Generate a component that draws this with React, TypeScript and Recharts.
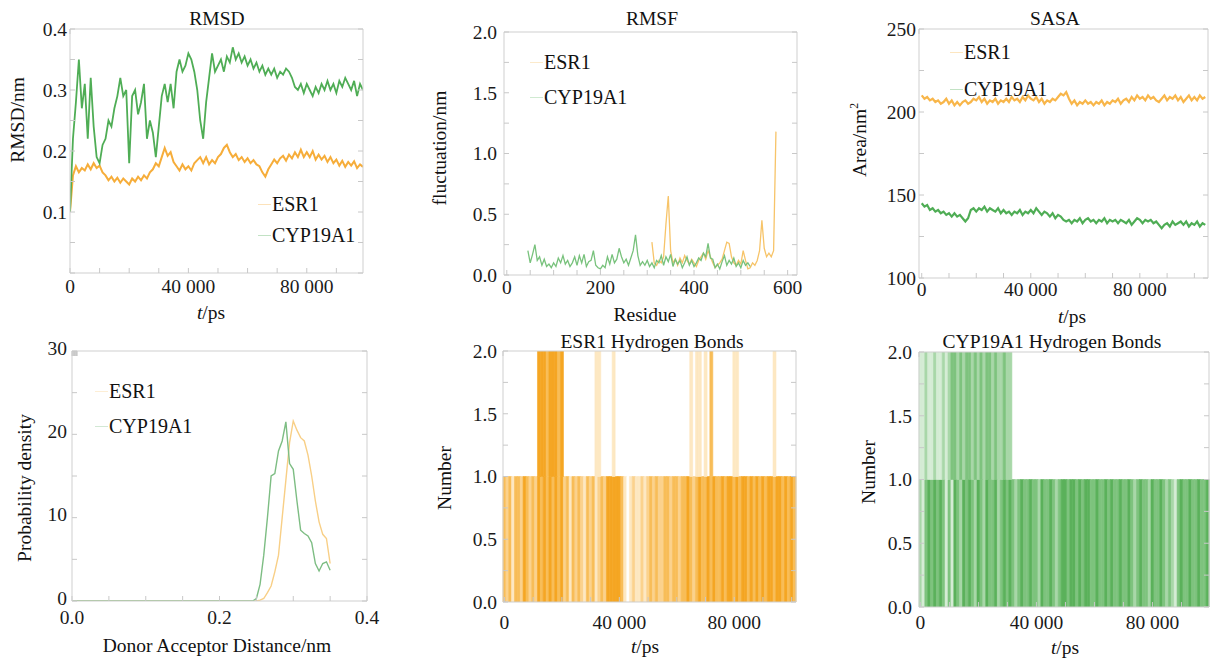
import React from 'react';
import { Bar, BarChart, Cell, Legend, Line, LineChart, XAxis, YAxis } from 'recharts';

// ---------- data ----------
const seriesNames = ['ESR1', 'CYP19A1'];

// RMSD (nm), one frame every 1000 ps, 0 .. 99 000 ps
const rmsdEsr1 = [
  0.1, 0.16, 0.175, 0.165, 0.172, 0.168, 0.178, 0.17, 0.18, 0.172,
  0.176, 0.165, 0.16, 0.152, 0.158, 0.15, 0.156, 0.148, 0.155, 0.15,
  0.145, 0.155, 0.15, 0.158, 0.152, 0.16, 0.155, 0.165, 0.17, 0.18,
  0.175, 0.19, 0.205, 0.192, 0.198, 0.182, 0.175, 0.168, 0.178, 0.17,
  0.175, 0.168, 0.18, 0.185, 0.19, 0.18, 0.19, 0.178, 0.185, 0.18,
  0.19, 0.195, 0.205, 0.21, 0.198, 0.19, 0.195, 0.185, 0.19, 0.182,
  0.188, 0.18, 0.185, 0.178, 0.175, 0.165, 0.158, 0.17, 0.178, 0.186,
  0.18, 0.188, 0.192, 0.184, 0.194, 0.188, 0.198, 0.19, 0.202, 0.19,
  0.198, 0.19, 0.2, 0.186, 0.194, 0.186, 0.192, 0.182, 0.19, 0.18,
  0.186, 0.176, 0.184, 0.174, 0.182, 0.176, 0.183, 0.172, 0.178, 0.174,
];
const rmsdCyp = [
  0.1, 0.22, 0.28, 0.35, 0.27, 0.31, 0.22, 0.32, 0.24, 0.19,
  0.18, 0.21, 0.22, 0.25, 0.24, 0.27, 0.29, 0.32, 0.29, 0.3,
  0.18, 0.29, 0.3, 0.26, 0.28, 0.31, 0.22, 0.25, 0.23, 0.19,
  0.24, 0.29, 0.31, 0.28, 0.31, 0.27, 0.33, 0.35, 0.33, 0.34,
  0.36, 0.35, 0.33, 0.3, 0.25, 0.22, 0.28, 0.32, 0.36, 0.33,
  0.34, 0.35, 0.33, 0.355, 0.345, 0.37, 0.35, 0.36, 0.345, 0.355,
  0.34, 0.35, 0.335, 0.345, 0.33, 0.34, 0.325, 0.335, 0.325, 0.335,
  0.32, 0.33, 0.325, 0.335, 0.33, 0.32, 0.305, 0.3, 0.31, 0.295,
  0.31, 0.3, 0.29, 0.305, 0.295, 0.31, 0.3, 0.315, 0.3, 0.31,
  0.295, 0.315, 0.305, 0.32, 0.31, 0.3, 0.315, 0.29, 0.31, 0.3,
];

// RMSF (nm), every 5th residue
const esr1FirstResidue = 310;
const cypFirstResidue = 45;
const residueStep = 5;
const rmsfEsr1 = [
  0.27, 0.1, 0.08, 0.12, 0.1, 0.15, 0.42, 0.65, 0.2, 0.1,
  0.13, 0.08, 0.14, 0.1, 0.16, 0.12, 0.09, 0.13, 0.1, 0.07,
  0.12, 0.15, 0.18, 0.13, 0.2, 0.15, 0.1, 0.06, 0.08, 0.1,
  0.13, 0.2, 0.27, 0.26, 0.15, 0.1, 0.08, 0.12, 0.09, 0.2,
  0.12, 0.05, 0.06, 0.1, 0.08, 0.12, 0.2, 0.45, 0.22, 0.15,
  0.18, 0.15, 0.2, 1.18,
];
const rmsfCyp = [
  0.2, 0.1, 0.17, 0.25, 0.12, 0.15, 0.08, 0.13, 0.07, 0.09,
  0.06, 0.1, 0.07, 0.14, 0.1, 0.16, 0.09, 0.12, 0.07, 0.1,
  0.15, 0.08, 0.16, 0.1, 0.17, 0.07, 0.11, 0.12, 0.2, 0.08,
  0.06, 0.05, 0.08, 0.06, 0.15, 0.09, 0.17, 0.1, 0.13, 0.22,
  0.15, 0.1, 0.13, 0.08, 0.14, 0.2, 0.33, 0.16, 0.08, 0.11,
  0.08, 0.12, 0.07, 0.1, 0.06, 0.12, 0.1, 0.16, 0.08, 0.15,
  0.11, 0.17, 0.07, 0.13, 0.09, 0.12, 0.06, 0.1, 0.15, 0.08,
  0.12, 0.07, 0.1, 0.14, 0.12, 0.18, 0.15, 0.26, 0.14, 0.13,
  0.06, 0.09, 0.05, 0.11, 0.16, 0.08, 0.12, 0.09, 0.14, 0.07,
  0.1, 0.06, 0.12, 0.08, 0.1, 0.07,
];

// SASA (nm^2), one frame every 1000 ps, 0 .. 104 000 ps
const sasaEsr1 = [
  210, 208, 209, 207, 208, 206, 207, 205, 206, 208,
  205, 207, 204, 206, 204, 206, 207, 205, 206, 208,
  207, 209, 206, 208, 205, 207, 206, 208, 205, 207,
  206, 208, 206, 209, 207, 208, 206, 209, 207, 210,
  208, 207, 209, 206, 208, 205, 207, 206, 208, 207,
  209, 211, 210, 212, 208, 205, 207, 204, 206, 205,
  207, 205, 206, 204, 206, 205, 207, 204, 206, 205,
  207, 206, 208, 205, 207, 208, 206, 209, 207, 210,
  208, 209, 207, 210, 208, 209, 207, 206, 208, 210,
  207, 209, 208, 210, 207, 209, 206, 208, 210, 207,
  209, 207, 210, 208, 209,
];
const sasaCyp = [
  145, 143, 144, 141, 142, 140, 141, 139, 140, 138,
  139, 137, 139, 137, 138, 136, 134, 136, 141, 142,
  140, 142, 141, 143, 140, 142, 141, 140, 142, 139,
  141, 139, 140, 138, 140, 139, 141, 138, 140, 139,
  141, 139, 142, 140, 138, 140, 139, 137, 139, 136,
  138, 137, 135, 134, 135, 133, 135, 134, 136, 133,
  135, 136, 134, 135, 133, 135, 134, 136, 133, 135,
  134, 135, 133, 135, 134, 133, 135, 132, 134, 136,
  135, 133, 135, 134, 135, 133, 134, 132, 130, 132,
  133, 131, 134, 132, 133, 134, 132, 134, 131, 133,
  132, 134, 131, 133, 132,
];

// hydrogen bond donor-acceptor distance distribution
const distance = [
  0, 0.24, 0.245, 0.25, 0.255, 0.26, 0.265, 0.27, 0.275, 0.28, 0.285, 0.29,
  0.295, 0.3, 0.305, 0.31, 0.315, 0.32, 0.325, 0.33, 0.335, 0.34, 0.345, 0.35,
];
const densityEsr1 = [
  0, 0, 0, 0, 0.1, 0.3, 1, 1.8, 3.5, 5.5, 10, 14.5,
  19, 21.6, 20.5, 19.6, 19.2, 17.5, 15, 12, 9.5, 8, 7.5, 4.5,
];
const densityCyp = [
  0, 0, 0, 0.3, 2, 5.5, 10, 15, 15.3, 18, 19.2, 21.5,
  16.5, 15.8, 12, 8.5, 8.1, 7.8, 7, 4.5, 3.6, 4.5, 4.7, 3.7,
];

// hydrogen bonds per 1000 ps window: shade level 0 (none) .. 4 (always present)
const esr1HbFirst = [
  3, 2, 3, 1, 3, 3, 2, 4, 3, 2,
  3, 2, 4, 3, 4, 3, 4, 3, 4, 3,
  4, 2, 3, 1, 3, 2, 3, 2, 1, 3,
  2, 3, 1, 2, 3, 2, 4, 4, 4, 4,
  4, 3, 1, 0, 1, 2, 1, 1, 2, 1,
  2, 3, 2, 3, 2, 2, 3, 3, 2, 3,
  3, 2, 3, 3, 4, 3, 2, 3, 4, 3,
  3, 4, 3, 4, 3, 3, 4, 3, 4, 4,
  3, 4, 3, 4, 4, 3, 4, 3, 4, 3,
  4, 3, 4, 4, 3, 4, 4, 3, 4, 3,
  4, 3,
];
const esr1HbSecond = [
  0, 0, 0, 0, 0, 0, 0, 0, 0, 0,
  0, 0, 4, 4, 4, 3, 4, 4, 4, 3,
  4, 0, 0, 0, 0, 0, 0, 0, 0, 0,
  0, 0, 1, 1, 0, 0, 0, 0, 1, 0,
  0, 0, 0, 0, 0, 0, 0, 0, 0, 0,
  0, 0, 0, 0, 0, 0, 0, 0, 0, 0,
  0, 0, 0, 0, 0, 1, 0, 1, 1, 0,
  1, 0, 3, 0, 0, 0, 0, 0, 0, 0,
  1, 1, 0, 0, 0, 0, 0, 0, 0, 0,
  0, 0, 0, 0, 1, 0, 0, 0, 0, 0,
  0, 0,
];
const cypHbFirst = [
  2, 1, 3, 4, 3, 4, 3, 4, 3, 1,
  3, 1, 4, 3, 2, 4, 3, 4, 3, 2,
  4, 3, 2, 4, 3, 3, 4, 2, 3, 4,
  3, 4, 3, 2, 3, 4, 3, 3, 4, 3,
  3, 2, 4, 3, 3, 4, 3, 2, 3, 4,
  4, 3, 4, 4, 3, 4, 3, 4, 4, 3,
  3, 4, 3, 3, 4, 3, 4, 3, 3, 4,
  3, 3, 4, 3, 2, 3, 4, 3, 3, 2,
  4, 3, 3, 4, 3, 2, 3, 2, 1, 3,
  4, 3, 3, 4, 3, 3, 4, 3, 3, 4,
];
const cypHbSecond = [
  1, 1, 2, 1, 1, 2, 1, 1, 2, 1,
  2, 3, 3, 2, 3, 2, 3, 3, 2, 3,
  2, 3, 2, 3, 3, 2, 3, 2, 2, 3,
  2, 2, 0, 0, 0, 0, 0, 0, 0, 0,
  0, 0, 0, 0, 0, 0, 0, 0, 0, 0,
  0, 0, 0, 0, 0, 0, 0, 0, 0, 0,
  0, 0, 0, 0, 0, 0, 0, 0, 0, 0,
  0, 0, 0, 0, 0, 0, 0, 0, 0, 0,
  0, 0, 0, 0, 0, 0, 0, 0, 0, 0,
  0, 0, 0, 0, 0, 0, 0, 0, 0, 0,
];

// tick positions
const timeTicks = [0, 10000, 20000, 30000, 40000, 50000, 60000, 70000, 80000, 90000];
const timeTicksLong = [...timeTicks, 100000];
const rmsdTicks = [0, 0.05, 0.1, 0.15, 0.2, 0.25, 0.3, 0.35, 0.4];
const rmsfYTicks = [0, 0.25, 0.5, 0.75, 1, 1.25, 1.5, 1.75, 2];
const residueTicks = [0, 50, 100, 150, 200, 250, 300, 350, 400, 450, 500, 550, 600];
const sasaTicks = [100, 125, 150, 175, 200, 225, 250];
const densityTicks = [0, 5, 10, 15, 20, 25, 30];
const distanceTicks = [0, 0.05, 0.1, 0.15, 0.2, 0.25, 0.3, 0.35, 0.4];
const hbondTicks = [0, 0.25, 0.5, 0.75, 1, 1.25, 1.5, 1.75, 2];

const FRAME_STEP = 1000;

// ---------- tables ----------
const rmsdData = rmsdEsr1.map((v, i) => ({ t: i * FRAME_STEP, esr1: v, cyp: rmsdCyp[i] }));
const sasaData = sasaEsr1.map((v, i) => ({ t: i * FRAME_STEP, esr1: v, cyp: sasaCyp[i] }));
const rmsfEsr1Data = rmsfEsr1.map((v, i) => ({ res: esr1FirstResidue + i * residueStep, v }));
const rmsfCypData = rmsfCyp.map((v, i) => ({ res: cypFirstResidue + i * residueStep, v }));
const distData = distance.map((d, i) => ({ d, esr1: densityEsr1[i], cyp: densityCyp[i] }));
const esr1HbData = esr1HbFirst.map((lvl, i) => ({ t: i * FRAME_STEP, first: 1, second: 1, lo: lvl, hi: esr1HbSecond[i] }));
const cypHbData = cypHbFirst.map((lvl, i) => ({ t: i * FRAME_STEP, first: 1, second: 1, lo: lvl, hi: cypHbSecond[i] }));

// ---------- styles ----------
const FONT = 'Liberation Serif, Times New Roman, serif';
const ORANGE = '#f6ad3a';
const GREEN = '#4fad55';
const orangeShades = ['#ffffff', '#fde8c2', '#fbd28d', '#f8bd58', '#f5a623'];
const greenShades = ['#ffffff', '#d5ecd5', '#a8d7a8', '#7ec37e', '#5bb15b'];
const tickLine = { stroke: '#c8c8c8' };
const axisLine = { stroke: '#cfcfcf' };

const YW = 70;
const XH = 40;
const MT = 16;
const MR = 20;

type Plot = { x: number; y: number; w: number; h: number };
const boxStyle = (p: Plot): React.CSSProperties => ({ position: 'absolute', left: p.x - YW, top: p.y - MT });
const chartSize = (p: Plot) => ({ width: YW + p.w + MR, height: MT + p.h + XH });
const chartMargin = { top: MT - 1, right: MR - 1, bottom: 0, left: 0 };

const plotRmsd: Plot = { x: 70, y: 29, w: 293, h: 244 };
const plotRmsf: Plot = { x: 504, y: 32, w: 293, h: 243 };
const plotSasa: Plot = { x: 919, y: 29, w: 289, h: 249 };
const plotDist: Plot = { x: 72, y: 351, w: 295, h: 250 };
const plotEsr1Hb: Plot = { x: 503, y: 351, w: 293, h: 251 };
const plotCypHb: Plot = { x: 919, y: 352, w: 290, h: 255 };

const spaced = (v: number) => String(v).replace(/\B(?=(\d{3})+(?!\d))/g, ' ');
const timeLabel = (v: number) => (v % 40000 === 0 ? spaced(v) : '');
const blank = () => '';
const everyTenth = (v: number) => {
  const k = Math.round(v * 100);
  return k > 0 && k % 10 === 0 ? (k / 100).toFixed(1) : '';
};
const everyHalf = (v: number) => {
  const k = Math.round(v * 100);
  return k % 50 === 0 ? (k / 100).toFixed(1) : '';
};

// tick label drawn as plain svg text so the serif face is kept
function AxisTick(props: any) {
  const { x, y, payload, textAnchor, verticalAnchor, tickFormatter, index, lift = 0 } = props;
  const label = tickFormatter ? tickFormatter(payload.value, index) : String(payload.value);
  if (!label) return null;
  const dy = verticalAnchor === 'start' ? '0.71em' : verticalAnchor === 'middle' ? '0.35em' : '0';
  return (
    <text x={x} y={y - lift} dy={dy} textAnchor={textAnchor} fill="#1a1a1a" fontSize={19.5} fontFamily={FONT}>
      {label}
    </text>
  );
}

function Caption({ x, y, rotate, size = 19.5, children }: { x: number; y: number; rotate?: boolean; size?: number; children: React.ReactNode }) {
  return (
    <div
      style={{
        position: 'absolute',
        left: x,
        top: y,
        transform: `translate(-50%, -50%)${rotate ? ' rotate(-90deg)' : ''}`,
        whiteSpace: 'nowrap',
        fontFamily: FONT,
        fontSize: size,
        lineHeight: 1,
        color: '#111',
      }}
    >
      {children}
    </div>
  );
}

const legendRows = (rowHeight: number) => (props: any) => (
  <div style={{ fontFamily: FONT, fontSize: 20, color: '#111' }}>
    {(props.payload || []).map((p: any) => (
      <div key={p.value} style={{ display: 'flex', alignItems: 'center', height: rowHeight }}>
        <span style={{ display: 'inline-block', width: 13, height: 1.5, background: p.color, opacity: 0.35, marginRight: 1 }} />
        <span>{p.value}</span>
      </div>
    ))}
  </div>
);

// legend box position is given relative to the plot's top-left corner
const legendAt = (left: number, top: number, rowHeight: number) => (
  <Legend
    layout="vertical"
    align="center"
    verticalAlign="middle"
    itemSorter={(item: any) => seriesNames.indexOf(item.value)}
    wrapperStyle={{ left: left + YW, top: top + MT, width: 'auto' }}
    content={legendRows(rowHeight)}
  />
);

const ItalicT = () => (
  <span>
    <i>t</i>/ps
  </span>
);

export default function App() {
  return (
    <div style={{ position: 'absolute', left: 0, top: 0, width: 1210, height: 660, overflow: 'hidden', background: '#fff', fontFamily: FONT }}>
      {/* RMSD */}
      <div style={boxStyle(plotRmsd)}>
        <LineChart {...chartSize(plotRmsd)} data={rmsdData} margin={chartMargin}>
          <XAxis dataKey="t" type="number" domain={[0, 99000]} ticks={timeTicks} allowDataOverflow height={XH} interval={0}
            tickFormatter={timeLabel} tick={<AxisTick />} tickLine={tickLine} axisLine={axisLine} tickSize={-5} tickMargin={11} />
          <XAxis xAxisId="top" orientation="top" type="number" domain={[0, 99000]} ticks={timeTicks} allowDataOverflow height={1} interval={0}
            tickFormatter={blank} tickLine={tickLine} axisLine={axisLine} tickSize={-5} />
          <YAxis domain={[0, 0.4]} ticks={rmsdTicks} allowDataOverflow width={YW} interval={0}
            tickFormatter={everyTenth} tick={<AxisTick />} tickLine={tickLine} axisLine={axisLine} tickSize={-5} tickMargin={8} />
          <YAxis yAxisId="right" orientation="right" domain={[0, 0.4]} ticks={rmsdTicks} allowDataOverflow width={1} interval={0}
            tickFormatter={blank} tickLine={tickLine} axisLine={axisLine} tickSize={-5} />
          <Line dataKey="esr1" name={seriesNames[0]} stroke={ORANGE} strokeWidth={2} dot={false} activeDot={false} isAnimationActive={false} />
          <Line dataKey="cyp" name={seriesNames[1]} stroke={GREEN} strokeWidth={1.8} dot={false} activeDot={false} isAnimationActive={false} />
          {legendAt(188, 160, 31)}
        </LineChart>
      </div>

      {/* RMSF */}
      <div style={boxStyle(plotRmsf)}>
        <LineChart {...chartSize(plotRmsf)} margin={chartMargin}>
          <XAxis dataKey="res" type="number" domain={[-6, 620]} ticks={residueTicks} allowDataOverflow height={XH} interval={0}
            tickFormatter={(v: number) => (v % 200 === 0 ? String(v) : '')} tick={<AxisTick />} tickLine={tickLine} axisLine={axisLine} tickSize={-5} tickMargin={10} />
          <XAxis xAxisId="top" orientation="top" type="number" domain={[-6, 620]} ticks={residueTicks} allowDataOverflow height={1} interval={0}
            tickFormatter={blank} tickLine={tickLine} axisLine={axisLine} tickSize={-5} />
          <YAxis domain={[0, 2]} ticks={rmsfYTicks} allowDataOverflow width={YW} interval={0}
            tickFormatter={everyHalf} tick={<AxisTick />} tickLine={tickLine} axisLine={axisLine} tickSize={-5} tickMargin={12} />
          <YAxis yAxisId="right" orientation="right" domain={[0, 2]} ticks={rmsfYTicks} allowDataOverflow width={1} interval={0}
            tickFormatter={blank} tickLine={tickLine} axisLine={axisLine} tickSize={-5} />
          <Line data={rmsfEsr1Data} dataKey="v" name={seriesNames[0]} stroke="#f7c469" strokeWidth={1.3} dot={false} activeDot={false} isAnimationActive={false} />
          <Line data={rmsfCypData} dataKey="v" name={seriesNames[1]} stroke="#78c27c" strokeWidth={1.3} dot={false} activeDot={false} isAnimationActive={false} />
          {legendAt(26, 13, 35)}
        </LineChart>
      </div>

      {/* SASA */}
      <div style={boxStyle(plotSasa)}>
        <LineChart {...chartSize(plotSasa)} data={sasaData} margin={chartMargin}>
          <XAxis dataKey="t" type="number" domain={[-1000, 105000]} ticks={timeTicksLong} allowDataOverflow height={XH} interval={0}
            tickFormatter={timeLabel} tick={<AxisTick />} tickLine={tickLine} axisLine={axisLine} tickSize={-5} tickMargin={9} />
          <XAxis xAxisId="top" orientation="top" type="number" domain={[-1000, 105000]} ticks={timeTicksLong} allowDataOverflow height={1} interval={0}
            tickFormatter={blank} tickLine={tickLine} axisLine={axisLine} tickSize={-5} />
          <YAxis domain={[100, 250]} ticks={sasaTicks} allowDataOverflow width={YW} interval={0}
            tickFormatter={(v: number) => (v % 50 === 0 ? String(v) : '')} tick={<AxisTick />} tickLine={tickLine} axisLine={axisLine} tickSize={-5} tickMargin={8} />
          <YAxis yAxisId="right" orientation="right" domain={[100, 250]} ticks={sasaTicks} allowDataOverflow width={1} interval={0}
            tickFormatter={blank} tickLine={tickLine} axisLine={axisLine} tickSize={-5} />
          <Line dataKey="esr1" name={seriesNames[0]} stroke="#f8b64a" strokeWidth={2.2} dot={false} activeDot={false} isAnimationActive={false} />
          <Line dataKey="cyp" name={seriesNames[1]} stroke={GREEN} strokeWidth={2.2} dot={false} activeDot={false} isAnimationActive={false} />
          {legendAt(31, 5, 37)}
        </LineChart>
      </div>

      {/* distance distribution */}
      <div style={boxStyle(plotDist)}>
        <LineChart {...chartSize(plotDist)} data={distData} margin={chartMargin}>
          <XAxis dataKey="d" type="number" domain={[0, 0.4]} ticks={distanceTicks} allowDataOverflow height={XH} interval={0}
            tickFormatter={(v: number) => (Math.round(v * 100) % 20 === 0 ? v.toFixed(1) : '')} tick={<AxisTick />} tickLine={tickLine} axisLine={axisLine} tickSize={-5} tickMargin={14} />
          <XAxis xAxisId="top" orientation="top" type="number" domain={[0, 0.4]} ticks={distanceTicks} allowDataOverflow height={1} interval={0}
            tickFormatter={blank} tickLine={tickLine} axisLine={axisLine} tickSize={-5} />
          <YAxis domain={[0, 30]} ticks={densityTicks} allowDataOverflow width={YW} interval={0}
            tickFormatter={(v: number) => (v % 10 === 0 ? String(v) : '')} tick={<AxisTick lift={3} />} tickLine={tickLine} axisLine={axisLine} tickSize={-5} tickMargin={10} />
          <YAxis yAxisId="right" orientation="right" domain={[0, 30]} ticks={densityTicks} allowDataOverflow width={1} interval={0}
            tickFormatter={blank} tickLine={tickLine} axisLine={axisLine} tickSize={-5} />
          <Line dataKey="esr1" name={seriesNames[0]} stroke="#f8cf86" strokeWidth={1.4} dot={false} activeDot={false} isAnimationActive={false} />
          <Line dataKey="cyp" name={seriesNames[1]} stroke="#7dbd83" strokeWidth={1.4} dot={false} activeDot={false} isAnimationActive={false} />
          {legendAt(23, 23, 35)}
        </LineChart>
      </div>

      {/* ESR1 hydrogen bonds */}
      <div style={boxStyle(plotEsr1Hb)}>
        <BarChart {...chartSize(plotEsr1Hb)} data={esr1HbData} margin={chartMargin} barCategoryGap={0} barGap={0}>
          <XAxis dataKey="t" interval={9} height={XH}
            tickFormatter={timeLabel} tick={<AxisTick />} tickLine={tickLine} axisLine={axisLine} tickSize={-5} tickMargin={18} />
          <XAxis xAxisId="top" orientation="top" type="number" domain={[-500, 101500]} ticks={timeTicksLong} allowDataOverflow height={1} interval={0}
            tickFormatter={blank} tickLine={tickLine} axisLine={axisLine} tickSize={-5} />
          <YAxis domain={[0, 2]} ticks={hbondTicks} allowDataOverflow width={YW} interval={0}
            tickFormatter={everyHalf} tick={<AxisTick />} tickLine={tickLine} axisLine={axisLine} tickSize={-5} tickMargin={11} />
          <YAxis yAxisId="right" orientation="right" domain={[0, 2]} ticks={hbondTicks} allowDataOverflow width={1} interval={0}
            tickFormatter={blank} tickLine={tickLine} axisLine={axisLine} tickSize={-5} />
          <Bar dataKey="first" stackId="hb" isAnimationActive={false}>
            {esr1HbData.map((d, i) => (
              <Cell key={i} fill={orangeShades[d.lo]} stroke={d.lo ? orangeShades[d.lo] : 'none'} strokeWidth={0.6} />
            ))}
          </Bar>
          <Bar dataKey="second" stackId="hb" isAnimationActive={false}>
            {esr1HbData.map((d, i) => (
              <Cell key={i} fill={d.hi ? orangeShades[d.hi] : 'none'} stroke={d.hi ? orangeShades[d.hi] : 'none'} strokeWidth={0.6} />
            ))}
          </Bar>
        </BarChart>
      </div>

      {/* CYP19A1 hydrogen bonds */}
      <div style={boxStyle(plotCypHb)}>
        <BarChart {...chartSize(plotCypHb)} data={cypHbData} margin={chartMargin} barCategoryGap={0} barGap={0}>
          <XAxis dataKey="t" interval={9} height={XH}
            tickFormatter={timeLabel} tick={<AxisTick />} tickLine={tickLine} axisLine={axisLine} tickSize={-5} tickMargin={13} />
          <XAxis xAxisId="top" orientation="top" type="number" domain={[-500, 99500]} ticks={timeTicks} allowDataOverflow height={1} interval={0}
            tickFormatter={blank} tickLine={tickLine} axisLine={axisLine} tickSize={-5} />
          <YAxis domain={[0, 2]} ticks={hbondTicks} allowDataOverflow width={YW} interval={0}
            tickFormatter={everyHalf} tick={<AxisTick />} tickLine={tickLine} axisLine={axisLine} tickSize={-5} tickMargin={12} />
          <YAxis yAxisId="right" orientation="right" domain={[0, 2]} ticks={hbondTicks} allowDataOverflow width={1} interval={0}
            tickFormatter={blank} tickLine={tickLine} axisLine={axisLine} tickSize={-5} />
          <Bar dataKey="first" stackId="hb" isAnimationActive={false}>
            {cypHbData.map((d, i) => (
              <Cell key={i} fill={greenShades[d.lo]} stroke={d.lo ? greenShades[d.lo] : 'none'} strokeWidth={0.6} />
            ))}
          </Bar>
          <Bar dataKey="second" stackId="hb" isAnimationActive={false}>
            {cypHbData.map((d, i) => (
              <Cell key={i} fill={d.hi ? greenShades[d.hi] : 'none'} stroke={d.hi ? greenShades[d.hi] : 'none'} strokeWidth={0.6} />
            ))}
          </Bar>
        </BarChart>
      </div>

      {/* titles */}
      <Caption x={217} y={19}>RMSD</Caption>
      <Caption x={652} y={19}>RMSF</Caption>
      <Caption x={1055} y={19}>SASA</Caption>
      <Caption x={652} y={342}>ESR1 Hydrogen Bonds</Caption>
      <Caption x={1052} y={342}>CYP19A1 Hydrogen Bonds</Caption>

      {/* axis titles */}
      <Caption x={18} y={120} rotate>RMSD/nm</Caption>
      <Caption x={211} y={313}><ItalicT /></Caption>
      <Caption x={440} y={148} rotate>fluctuation/nm</Caption>
      <Caption x={645} y={315}>Residue</Caption>
      <Caption x={860} y={140} rotate>
        Area/nm<sup style={{ fontSize: '0.6em', verticalAlign: '0.7em', lineHeight: 0 }}>2</sup>
      </Caption>
      <Caption x={1072} y={317}><ItalicT /></Caption>
      <Caption x={25} y={488} rotate>Probability density</Caption>
      <Caption x={217} y={646}>Donor Acceptor Distance/nm</Caption>
      <Caption x={445} y={478} rotate>Number</Caption>
      <Caption x={645} y={647}><ItalicT /></Caption>
      <Caption x={869} y={472} rotate>Number</Caption>
      <Caption x={1065} y={648}><ItalicT /></Caption>
    </div>
  );
}
